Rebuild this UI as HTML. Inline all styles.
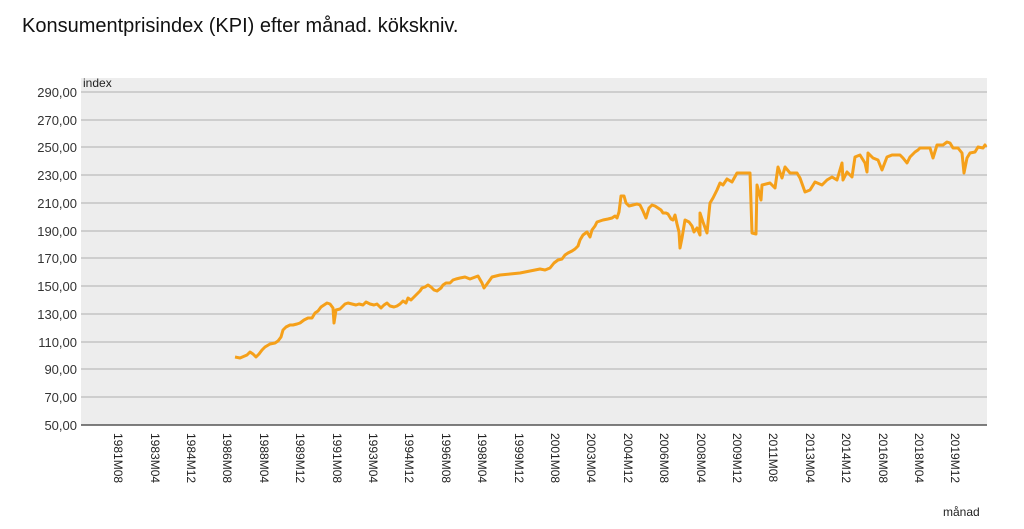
<!DOCTYPE html>
<html><head><meta charset="utf-8"><style>
body{margin:0;background:#fff;width:1024px;height:524px;overflow:hidden;font-family:"Liberation Sans",Arial,sans-serif}
</style></head><body>
<svg width="1024" height="524" viewBox="0 0 1024 524" xmlns="http://www.w3.org/2000/svg" font-family="Liberation Sans, Arial, sans-serif">
<text x="22" y="32" font-size="20" fill="#111">Konsumentprisindex (KPI) efter månad. kökskniv.</text>
<rect x="81" y="78" width="906" height="347" fill="#ededed"/>
<g stroke="#bdbdbd" stroke-width="1.2">
<line x1="81" x2="987" y1="92" y2="92"/><line x1="81" x2="987" y1="120" y2="120"/>
<line x1="81" x2="987" y1="147" y2="147"/><line x1="81" x2="987" y1="175" y2="175"/>
<line x1="81" x2="987" y1="203" y2="203"/><line x1="81" x2="987" y1="231" y2="231"/>
<line x1="81" x2="987" y1="258" y2="258"/><line x1="81" x2="987" y1="286" y2="286"/>
<line x1="81" x2="987" y1="314" y2="314"/><line x1="81" x2="987" y1="342" y2="342"/>
<line x1="81" x2="987" y1="369" y2="369"/><line x1="81" x2="987" y1="397" y2="397"/>
</g>
<line x1="81" x2="987" y1="425" y2="425" stroke="#555" stroke-width="1.5"/>
<g font-size="13" fill="#333" text-anchor="end">
<text x="77" y="97">290,00</text><text x="77" y="125">270,00</text><text x="77" y="152">250,00</text>
<text x="77" y="180">230,00</text><text x="77" y="208">210,00</text><text x="77" y="236">190,00</text>
<text x="77" y="263">170,00</text><text x="77" y="291">150,00</text><text x="77" y="319">130,00</text>
<text x="77" y="347">110,00</text><text x="77" y="374">90,00</text><text x="77" y="402">70,00</text>
<text x="77" y="430">50,00</text>
</g>
<text x="83" y="87" font-size="12" fill="#222">index</text>
<g font-size="12" fill="#222">
<text transform="translate(114,433) rotate(90)">1981M08</text>
<text transform="translate(151,433) rotate(90)">1983M04</text>
<text transform="translate(187,433) rotate(90)">1984M12</text>
<text transform="translate(223,433) rotate(90)">1986M08</text>
<text transform="translate(260,433) rotate(90)">1988M04</text>
<text transform="translate(296,433) rotate(90)">1989M12</text>
<text transform="translate(333,433) rotate(90)">1991M08</text>
<text transform="translate(369,433) rotate(90)">1993M04</text>
<text transform="translate(405,433) rotate(90)">1994M12</text>
<text transform="translate(442,433) rotate(90)">1996M08</text>
<text transform="translate(478,433) rotate(90)">1998M04</text>
<text transform="translate(515,433) rotate(90)">1999M12</text>
<text transform="translate(551,433) rotate(90)">2001M08</text>
<text transform="translate(587,433) rotate(90)">2003M04</text>
<text transform="translate(624,433) rotate(90)">2004M12</text>
<text transform="translate(660,433) rotate(90)">2006M08</text>
<text transform="translate(697,433) rotate(90)">2008M04</text>
<text transform="translate(733,433) rotate(90)">2009M12</text>
<text transform="translate(769,433) rotate(90)">2011M08</text>
<text transform="translate(806,433) rotate(90)">2013M04</text>
<text transform="translate(842,433) rotate(90)">2014M12</text>
<text transform="translate(879,433) rotate(90)">2016M08</text>
<text transform="translate(915,433) rotate(90)">2018M04</text>
<text transform="translate(951,433) rotate(90)">2019M12</text>
</g>
<text x="943" y="516" font-size="12" fill="#222">månad</text>
<polyline fill="none" stroke="#f5a01a" stroke-width="3" stroke-linejoin="round" points="
235,357 240,358 247,355 250,352 253,354 256,357 259,354 262,350 265,347 270,344 275,343 278,341 281,337 283,330 286,327 290,325 293,325 297,324 300,323 304,320 308,318 312,318 315,313 318,311 321,307 324,305 327,303 330,304 333,308 334,323 336,310 340,309 345,304 348,303 352,304 356,305 359,304 363,305 366,302 370,304 374,305 377,304 381,308 384,305 387,303 390,306 394,307 397,306 400,304 403,301 406,303 408,298 411,300 414,297 417,294 420,291 422,288 425,287 428,285 431,287 434,290 437,291 441,288 443,285 446,283 450,283 453,280 456,279 460,278 465,277 470,279 478,276 482,283 484,288 487,284 492,277 500,275 510,274 520,273 525,272 530,271 535,270 540,269 545,270 550,268 554,263 558,260 562,259 565,255 568,253 572,251 575,249 578,246 580,240 583,235 587,232 590,237 592,230 595,226 597,222 600,221 603,220 608,219 612,218 615,216 617,218 619,212 621,196 624,196 626,203 629,206 633,205 637,204 640,205 643,211 646,218 649,208 652,205 655,206 658,208 661,210 663,213 666,213 668,214 671,219 673,220 675,215 677,224 679,232 680,248 682,238 685,220 689,222 692,226 694,232 697,228 700,235 700,213 703,222 707,233 710,203 713,198 717,190 720,183 723,185 727,179 732,182 737,173 750,173 752,233 756,234 757,185 761,200 762,185 770,183 775,188 778,167 782,178 785,167 790,173 797,173 800,178 805,192 810,190 815,182 822,185 827,180 832,177 837,180 842,163 843,180 847,172 852,177 855,157 860,155 865,163 867,172 868,153 873,158 878,160 882,170 887,157 892,155 900,155 903,158 907,163 910,157 915,152 918,150 920,148 930,148 933,158 937,145 943,145 947,142 950,143 953,148 958,148 962,153 964,173 967,158 970,153 975,152 978,147 983,148 985,145 986,147"/>
</svg>
</body></html>
